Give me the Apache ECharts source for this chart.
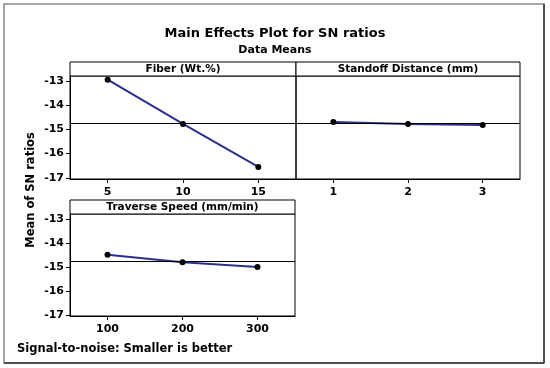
<!DOCTYPE html>
<html>
<head>
<meta charset="utf-8">
<script src="https://cdn.jsdelivr.net/npm/echarts@6/dist/echarts.min.js"></script>
<style>
html,body{margin:0;padding:0;background:#fff;}
#chart{width:550px;height:368px;}
</style>
</head>
<body>
<div id="chart"></div>
<script>
// ---- data ----
const fiberLevels = [5, 10, 15];
const fiberSN = [-12.95, -14.78, -16.55];
const standoffLevels = [1, 2, 3];
const standoffSN = [-14.70, -14.78, -14.82];
const speedLevels = [100, 200, 300];
const speedSN = [-14.50, -14.81, -15.01];
const overallMean = -14.77;
const yTicks = [-17, -16, -15, -14, -13];
const panelTitles = ['Fiber (Wt.%)', 'Standoff Distance (mm)', 'Traverse Speed (mm/min)'];

const FONT = 'DejaVu Sans';
const LINE = '#2b2f8f';

const chart = echarts.init(document.getElementById('chart'), null, {renderer: 'canvas'});

function pairs(xs, ys) { return xs.map((x, i) => [x, ys[i]]); }

const grids = [
  {left: 70, top: 76, width: 226, height: 103},
  {left: 296, top: 76, width: 224, height: 103},
  {left: 70, top: 214, width: 225, height: 102}
];
const xRanges = [[2.5, 17.5], [0.5, 3.5], [50, 350]];
const xTickSets = [fiberLevels, standoffLevels, speedLevels];
const seriesData = [pairs(fiberLevels, fiberSN), pairs(standoffLevels, standoffSN), pairs(speedLevels, speedSN)];

const labelStyle = {color: '#000', fontFamily: FONT, fontWeight: 'bold', fontSize: 11};

const option = {
  animation: false,
  backgroundColor: '#fff',
  title: [
    {text: 'Main Effects Plot for SN ratios', left: 'center', top: 22,
     textStyle: {fontFamily: FONT, fontWeight: 'bold', fontSize: 13, color: '#000'}},
    {text: 'Data Means', left: 'center', top: 40,
     textStyle: {fontFamily: FONT, fontWeight: 'bold', fontSize: 11, color: '#000'}}
  ],
  grid: grids.map(g => Object.assign({show: true, borderColor: '#000', borderWidth: 1, backgroundColor: 'transparent'}, g)),
  xAxis: grids.map((g, i) => ({
    type: 'value', gridIndex: i, min: xRanges[i][0], max: xRanges[i][1],
    splitLine: {show: false},
    axisLine: {show: true, lineStyle: {color: '#000'}},
    axisTick: {show: true, length: 4, lineStyle: {color: '#000'}, customValues: xTickSets[i]},
    axisLabel: Object.assign({margin: 8, customValues: xTickSets[i]}, labelStyle)
  })),
  yAxis: grids.map((g, i) => ({
    type: 'value', gridIndex: i, min: -17.05, max: -12.8,
    splitLine: {show: false},
    axisLine: {show: i !== 1, lineStyle: {color: '#000'}},
    axisTick: {show: i !== 1, length: 4, lineStyle: {color: '#000'}, customValues: yTicks},
    axisLabel: Object.assign({show: i !== 1, margin: 6, customValues: yTicks}, labelStyle)
  })),
  series: seriesData.map((d, i) => ({
    type: 'line', xAxisIndex: i, yAxisIndex: i, data: d,
    lineStyle: {color: LINE, width: 2},
    symbol: 'circle', symbolSize: 6,
    itemStyle: {color: '#000'},
    markLine: {
      silent: true, symbol: 'none', label: {show: false},
      lineStyle: {color: '#000', type: 'solid', width: 1},
      data: [{yAxis: overallMean}]
    }
  })),
  graphic: [
    {type: 'rect', shape: {x: 4, y: 4, width: 540, height: 359}, style: {fill: 'none', stroke: '#8a8a8a', lineWidth: 1.5}, z: 0},
    {type: 'line', shape: {x1: 544, y1: 4, x2: 544, y2: 363}, style: {stroke: '#333', lineWidth: 1.5}},
    {type: 'line', shape: {x1: 4, y1: 363, x2: 544, y2: 363}, style: {stroke: '#333', lineWidth: 1.5}},
    {type: 'rect', shape: {x: 70, y: 62, width: 226, height: 14}, style: {fill: '#fff', stroke: '#000', lineWidth: 1}},
    {type: 'rect', shape: {x: 296, y: 62, width: 224, height: 14}, style: {fill: '#fff', stroke: '#000', lineWidth: 1}},
    {type: 'rect', shape: {x: 70, y: 200, width: 225, height: 14}, style: {fill: '#fff', stroke: '#000', lineWidth: 1}},
    {type: 'text', x: 183, y: 69.5, style: {text: panelTitles[0], font: 'bold 10.5px "DejaVu Sans"', fill: '#000', align: 'center', verticalAlign: 'middle'}},
    {type: 'text', x: 408, y: 69.5, style: {text: panelTitles[1], font: 'bold 10.5px "DejaVu Sans"', fill: '#000', align: 'center', verticalAlign: 'middle'}},
    {type: 'text', x: 182.5, y: 207.5, style: {text: panelTitles[2], font: 'bold 10.5px "DejaVu Sans"', fill: '#000', align: 'center', verticalAlign: 'middle'}},
    {type: 'text', x: 31, y: 190, rotation: Math.PI / 2, style: {text: 'Mean of SN ratios', font: 'bold 11.5px "DejaVu Sans"', fill: '#000', align: 'center', verticalAlign: 'middle'}},
    {type: 'text', x: 17, y: 349, style: {text: 'Signal-to-noise: Smaller is better', font: 'bold 11.5px "DejaVu Sans"', fill: '#000', align: 'left', verticalAlign: 'middle'}}
  ]
};
chart.setOption(option);
</script>
</body>
</html>
